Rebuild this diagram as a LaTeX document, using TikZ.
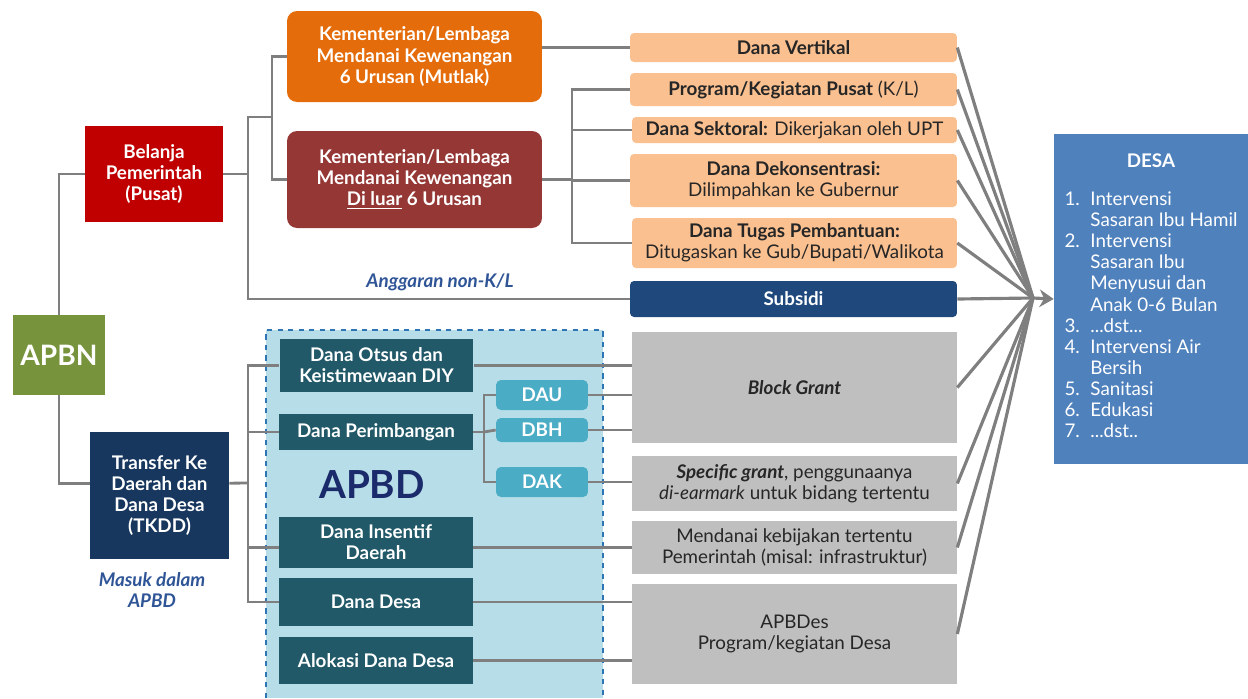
\documentclass[tikz,border=0pt]{standalone}
\usepackage{fontspec}
\setmainfont{Lato}
\usetikzlibrary{arrows.meta}
\definecolor{apbngreen}{HTML}{77933C}
\definecolor{belanjared}{HTML}{C00000}
\definecolor{mutlakorange}{HTML}{E46C0A}
\definecolor{luarred}{HTML}{953735}
\definecolor{peach}{HTML}{FAC090}
\definecolor{subsidiblue}{HTML}{1F497D}
\definecolor{tkddnavy}{HTML}{17375E}
\definecolor{apbdbg}{HTML}{B7DEE8}
\definecolor{apbdborder}{HTML}{2E75B6}
\definecolor{tealdark}{HTML}{215968}
\definecolor{teallight}{HTML}{4BACC6}
\definecolor{grantgray}{HTML}{BFBFBF}
\definecolor{desablue}{HTML}{4F81BD}
\definecolor{linegray}{HTML}{7F7F7F}
\definecolor{noteblue}{HTML}{2F5597}
\definecolor{apbdtext}{HTML}{1B2A6B}
\definecolor{darktext}{HTML}{262626}
\newcommand\boxfont{\fontsize{10.7}{12}\selectfont}
\tikzset{
	cell/.style={rectangle,inner sep=1pt,align=center,font=\boxfont},
	hbox/.style={cell,text=white,font=\boxfont\bfseries},
	pbox/.style={cell,fill=peach,rounded corners=0.08cm,text=darktext,minimum width=6.54cm},
	gbox/.style={cell,fill=grantgray,text=darktext,minimum width=6.5cm},
	tbox/.style={hbox,fill=tealdark,minimum width=3.88cm},
	chip/.style={hbox,fill=teallight,rounded corners=0.1cm,minimum width=1.84cm},
	note/.style={align=center,text=noteblue,font=\boxfont\bfseries\itshape},
	conn/.style={draw=linegray,line width=1.6pt},
	feed/.style={draw=linegray,line width=1.8pt}
}
\begin{document}
\begin{tikzpicture}[x=0.02cm,y=-0.02cm]
	\useasboundingbox (0,0) rectangle (1248,698);
	\fill[apbdbg] (266,330) rectangle (603,698);
	\draw[apbdborder,dashed,line width=0.6pt] (266,698) |- (603,330) -- (603,698);
	\node[hbox,fill=apbngreen,minimum width=1.84cm,minimum height=1.6cm,font=\fontsize{16}{18}\selectfont\bfseries] (apbn) at (59,355) {APBN};
	\node[hbox,fill=belanjared,minimum width=2.76cm,minimum height=1.92cm] (belanja) at (154,174) {Belanja\\Pemerintah\\(Pusat)};
	\node[hbox,fill=mutlakorange,rounded corners=0.2cm,minimum width=5.1cm,minimum height=1.82cm] (mutlak) at (414.5,56.5) {Kementerian/Lembaga\\Mendanai Kewenangan\\6 Urusan (Mutlak)};
	\node[hbox,fill=luarred,rounded corners=0.2cm,minimum width=5.1cm,minimum height=1.94cm] (luar) at (414.5,179.5) {Kementerian/Lembaga\\Mendanai Kewenangan\\\underline{Di luar} 6 Urusan};
	\node[pbox,minimum height=0.58cm] (vertikal) at (793.5,47.5) {\textbf{Dana Vertikal}};
	\node[pbox,minimum height=0.66cm] (program) at (793.5,89.5) {\textbf{Program/Kegiatan Pusat} (K/L)};
	\node[pbox,minimum width=6.5cm,minimum height=0.52cm] (sektoral) at (794.5,130) {\textbf{Dana Sektoral:} Dikerjakan oleh UPT};
	\node[pbox,minimum height=1.06cm] (dekon) at (793.5,180.5) {\textbf{Dana Dekonsentrasi:}\\Dilimpahkan ke Gubernur};
	\node[pbox,minimum width=6.5cm,minimum height=1cm] (tugas) at (794.5,243) {\textbf{Dana Tugas Pembantuan:}\\Ditugaskan ke Gub/Bupati/Walikota};
	\node[hbox,fill=subsidiblue,rounded corners=0.08cm,minimum width=6.54cm,minimum height=0.72cm] (subsidi) at (793.5,299) {Subsidi};
	\node[note] (nonkl) at (440,282) {Anggaran non-K/L};
	\node[hbox,fill=tkddnavy,minimum width=2.78cm,minimum height=2.54cm] (tkdd) at (159.5,495.5) {Transfer Ke\\Daerah dan\\Dana Desa\\(TKDD)};
	\node[note] (masuk) at (152,590) {Masuk dalam\\APBD};
	\node[tbox,minimum height=1.06cm] (otsus) at (376.5,365.5) {Dana Otsus dan\\Keistimewaan DIY};
	\node[tbox,minimum height=0.72cm] (perimbangan) at (376,432) {Dana Perimbangan};
	\node[text=apbdtext,font=\fontsize{22}{24}\selectfont\bfseries] (apbd) at (372,485) {APBD};
	\node[tbox,minimum height=1.02cm] (insentif) at (376,542.5) {Dana Insentif\\Daerah};
	\node[tbox,minimum height=0.96cm] (danadesa) at (376,602) {Dana Desa};
	\node[tbox,minimum height=0.94cm] (alokasi) at (376,660.5) {Alokasi Dana Desa};
	\node[chip,minimum height=0.6cm] (dau) at (542,395) {DAU};
	\node[chip,minimum height=0.48cm] (dbh) at (542,430) {DBH};
	\node[chip,minimum height=0.6cm] (dak) at (542,482) {DAK};
	\node[gbox,minimum height=2.22cm] (block) at (794.5,387.5) {\textbf{\textit{Block Grant}}};
	\node[gbox,minimum height=1.1cm] (specific) at (794.5,483.5) {\textbf{\textit{Specific grant}}, penggunaanya\\\textit{di-earmark} untuk bidang tertentu};
	\node[gbox,minimum height=1.06cm] (mendanai) at (794.5,547.5) {Mendanai kebijakan tertentu\\Pemerintah (misal: infrastruktur)};
	\node[gbox,minimum height=2cm] (apbdes) at (794.5,634) {APBDes\\Program/kegiatan Desa};
	\node[cell,fill=desablue,text=white,minimum width=3.88cm,minimum height=6.6cm] (desa) at (1151,299) {\textbf{DESA}\\[0.42cm]
		\begin{tabular}{@{}l@{\hspace{6pt}}l@{}}
			1. & Intervensi\\
			 & Sasaran Ibu Hamil\\
			2. & Intervensi\\
			 & Sasaran Ibu\\
			 & Menyusui dan\\
			 & Anak 0-6 Bulan\\
			3. & ...dst...\\
			4. & Intervensi Air\\
			 & Bersih\\
			5. & Sanitasi\\
			6. & Edukasi\\
			7. & ...dst..
		\end{tabular}};
	\coordinate (jb) at (248,117);
	\coordinate (jk) at (272,117);
	\coordinate (jp) at (572,180);
	\coordinate (jt) at (248,483);
	\coordinate (jd) at (484,432);
	\coordinate (conv) at (1033,298);
	\draw[conn] (apbn.north) |- (belanja.west);
	\draw[conn] (apbn.south) |- (tkdd.170);
	\draw[conn] (belanja.east) -- (belanja.east -| jb);
	\draw[conn] (mutlak.west) -| (jk) |- (luar.west);
	\draw[conn] (jk) -- (jb) |- (subsidi.west);
	\draw[conn] (vertikal.west -| mutlak.east) -- (vertikal.west);
	\draw[conn] (luar.east) -- (luar.east -| jp);
	\draw[conn] (program.west) -| (jp) |- (tugas.west);
	\draw[conn] (sektoral.west) -- (sektoral.west -| jp);
	\draw[conn] (dekon.west) -- (dekon.west -| jp);
	\draw[conn] (tkdd.10) -- (jt);
	\draw[conn] (otsus.west) -| (jt) |- (danadesa.west);
	\draw[conn] (perimbangan.west) -- (perimbangan.west -| jt);
	\draw[conn] (insentif.183) -- (insentif.183 -| jt);
	\draw[conn] (perimbangan.east) -- (jd);
	\draw[conn] (dau.west) -| (jd) |- (dak.west);
	\draw[conn] (dbh.west) -- (jd);
	\draw[conn] (otsus.east) -- (otsus.east -| block.west);
	\draw[conn] (dau.east) -- (dau.east -| block.west);
	\draw[conn] (dbh.east) -- (dbh.east -| block.west);
	\draw[conn] (dak.east) -- (dak.east -| specific.west);
	\draw[conn] (insentif.357) -- (insentif.357 -| mendanai.west);
	\draw[conn] (danadesa.east) -- (danadesa.east -| apbdes.west);
	\draw[conn] (alokasi.east) -- (alokasi.east -| apbdes.west);
	\foreach \src in {vertikal,program,sektoral,dekon,tugas,subsidi,block,specific,mendanai,apbdes}
		\draw[feed] (\src.east) -- (conv);
	\draw[feed,-{Stealth[length=8pt,width=10pt]}] (conv) -- (desa.west);
\end{tikzpicture}
\end{document}
